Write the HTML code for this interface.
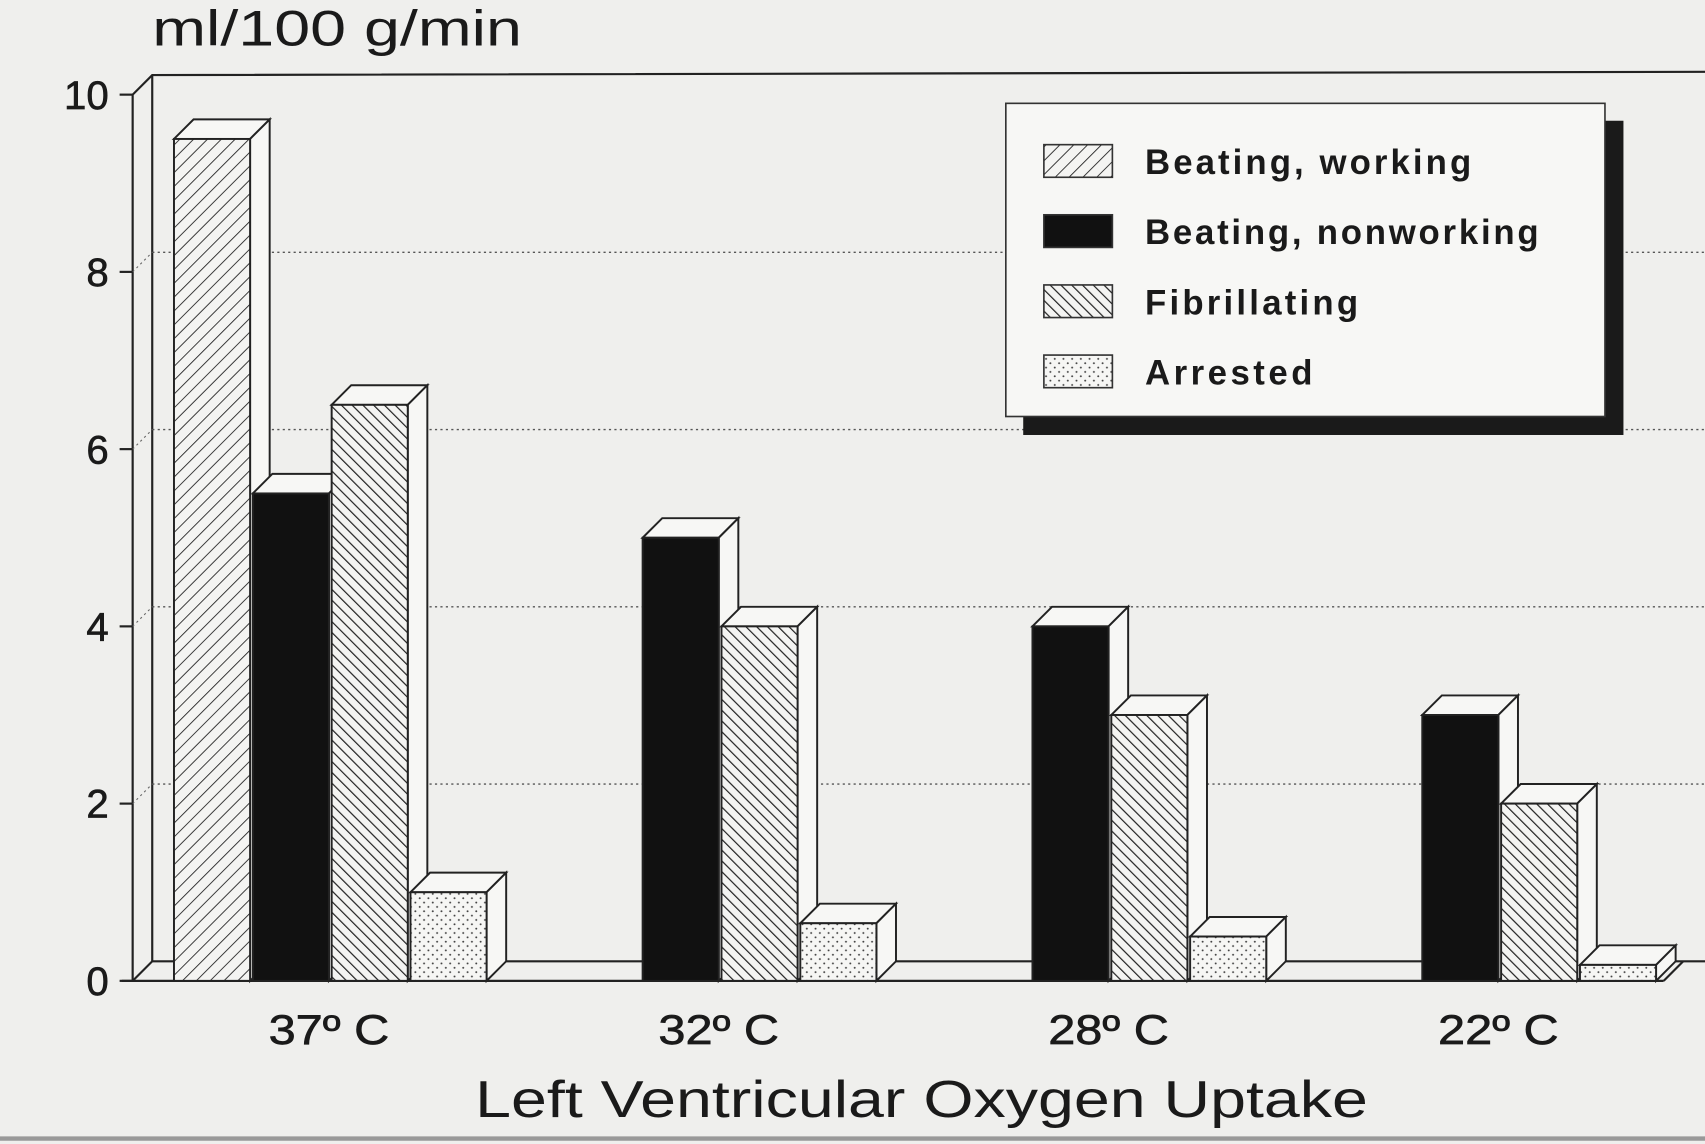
<!DOCTYPE html>
<html><head><meta charset="utf-8"><style>
html,body{margin:0;padding:0;background:#efefed;}
svg{display:block;}
text{font-family:"Liberation Sans",sans-serif;fill:#1a1a1a;}
</style></head><body>
<svg id="chart" width="1705" height="1144" viewBox="0 0 1568 1052" xmlns="http://www.w3.org/2000/svg">
<defs>
<pattern id="pWork" patternUnits="userSpaceOnUse" width="9" height="9" patternTransform="rotate(45)"><rect width="9" height="9" fill="#f4f4f2"/><line x1="0" y1="0" x2="0" y2="9" stroke="#222" stroke-width="1.6"/></pattern>
<pattern id="pFib" patternUnits="userSpaceOnUse" width="7" height="7" patternTransform="rotate(-45)"><rect width="7" height="7" fill="#f4f4f2"/><line x1="0" y1="0" x2="0" y2="7" stroke="#222" stroke-width="2.2"/></pattern>
<pattern id="pArr" patternUnits="userSpaceOnUse" width="8" height="8"><rect width="8" height="8" fill="#f6f6f4"/><circle cx="2" cy="2" r="0.9" fill="#444"/><circle cx="6" cy="6" r="0.9" fill="#444"/></pattern>
</defs>
<rect x="0" y="0" width="1568" height="1052" fill="#efefed"/>
<line x1="0" y1="1047" x2="1568" y2="1047" stroke="#999" stroke-width="4"/>
<g id="frame"></g>
<g id="bars"></g>
<g id="legend">
<rect x="941" y="111" width="552" height="289" fill="#1a1a1a"/>
<rect x="925" y="95" width="551" height="288" fill="#f7f7f5" stroke="#333" stroke-width="1.5"/>
</g>
<text x="140" y="42" font-size="46" textLength="340" lengthAdjust="spacingAndGlyphs">ml/100 g/min</text>
<text x="437" y="1027" font-size="48" textLength="821" lengthAdjust="spacingAndGlyphs">Left Ventricular Oxygen Uptake</text>
</svg>
<script>
const categories = ["37º C","32º C","28º C","22º C"];
const seriesNames = ["Beating, working","Beating, nonworking","Fibrillating","Arrested"];
const working = [9.5, null, null, null];
const nonworking = [5.5, 5.0, 4.0, 3.0];
const fibrillating = [6.5, 4.0, 3.0, 2.0];
const arrested = [1.0, 0.65, 0.5, 0.18];
const yTicks = [0,2,4,6,8,10];

const NS="http://www.w3.org/2000/svg";
const frame=document.getElementById('frame');
const barsG=document.getElementById('bars');
const legend=document.getElementById('legend');
const fills=["url(#pWork)","#111","url(#pFib)","url(#pArr)"];
const series=[working,nonworking,fibrillating,arrested];
const legendWidths=[300,362,196,154];
const y0=902, unit=81.5, D=18, axisX=122, wallX=140;
function yS(v){return y0-v*unit;}
function xS(ci,si){return 160+ci*358.5+si*72.5;}
const BW=70;
function mk(tag,attrs,parent){const e=document.createElementNS(NS,tag);for(const k in attrs)e.setAttribute(k,attrs[k]);parent.appendChild(e);return e;}

let e;
e=mk('polyline',{points:`${axisX},${y0} ${axisX},${yS(10)} ${wallX},${yS(10)-D} 1568,${yS(10)-D-3}`,fill:'none',stroke:'#222','stroke-width':2},frame);


e=mk('line',{x1:wallX,y1:yS(10)-D,x2:wallX,y2:y0-D,stroke:'#222','stroke-width':2},frame);


yTicks.forEach(t=>{
  if(t>0&&t<10){
    e=mk('line',{x1:wallX,y1:yS(t)-D,x2:1568,y2:yS(t)-D,stroke:'#555','stroke-width':1.3,'stroke-dasharray':'2 3'},frame);
    
    
    e=mk('line',{x1:axisX,y1:yS(t),x2:wallX,y2:yS(t)-D,stroke:'#666','stroke-width':1,'stroke-dasharray':'2 3'},frame);
    
    
  }
  e=mk('line',{x1:axisX-12,y1:yS(t),x2:axisX,y2:yS(t),stroke:'#222','stroke-width':2},frame);
  
  
  e=mk('text',{x:axisX-22,y:yS(t)+13,'font-size':37,'text-anchor':'end','stroke':'#1a1a1a','stroke-width':0.6},frame);
  e.textContent=t;
  
  
});
e=mk('line',{x1:112,y1:y0,x2:1530,y2:y0,stroke:'#222','stroke-width':2},frame);


e=mk('polyline',{points:`${axisX},${y0} ${wallX},${y0-D} 1568,${y0-D}`,fill:'none',stroke:'#222','stroke-width':2},frame);


e=mk('line',{x1:1530,y1:y0,x2:1548,y2:y0-D,stroke:'#222','stroke-width':2},frame);



categories.forEach((c,ci)=>{
  series.forEach((s,si)=>{
    const v=s[ci]; if(v==null) return;
    const x=xS(ci,si), y=yS(v);
    const g=mk('g',{},barsG);
    
    
    mk('polygon',{points:`${x},${y} ${x+D},${y-D} ${x+BW+D},${y-D} ${x+BW},${y}`,fill:'#f7f7f5',stroke:'#222','stroke-width':1.8},g);
    mk('polygon',{points:`${x+BW},${y} ${x+BW+D},${y-D} ${x+BW+D},${y0-D} ${x+BW},${y0}`,fill:'#f7f7f5',stroke:'#222','stroke-width':1.8},g);
    mk('rect',{x:x,y:y,width:BW,height:y0-y,fill:fills[si],stroke:'#222','stroke-width':1.8},g);
  });
  e=mk('text',{x:xS(ci,0)+87,y:960,'font-size':38,'stroke':'#1a1a1a','stroke-width':0.6,textLength:111,lengthAdjust:'spacingAndGlyphs'},frame);
  e.textContent=c;
  
  
});

seriesNames.forEach((n,i)=>{
  const yy=133+i*64.5;
  e=mk('rect',{x:960,y:yy,width:63,height:30,fill:fills[i],stroke:'#333','stroke-width':1.5},legend);
  
  
  e=mk('text',{x:1053,y:yy+27,'font-size':32,'font-weight':'bold',textLength:legendWidths[i],lengthAdjust:'spacing'},legend);
  e.textContent=n;
  
  
});
</script>
</body></html>
